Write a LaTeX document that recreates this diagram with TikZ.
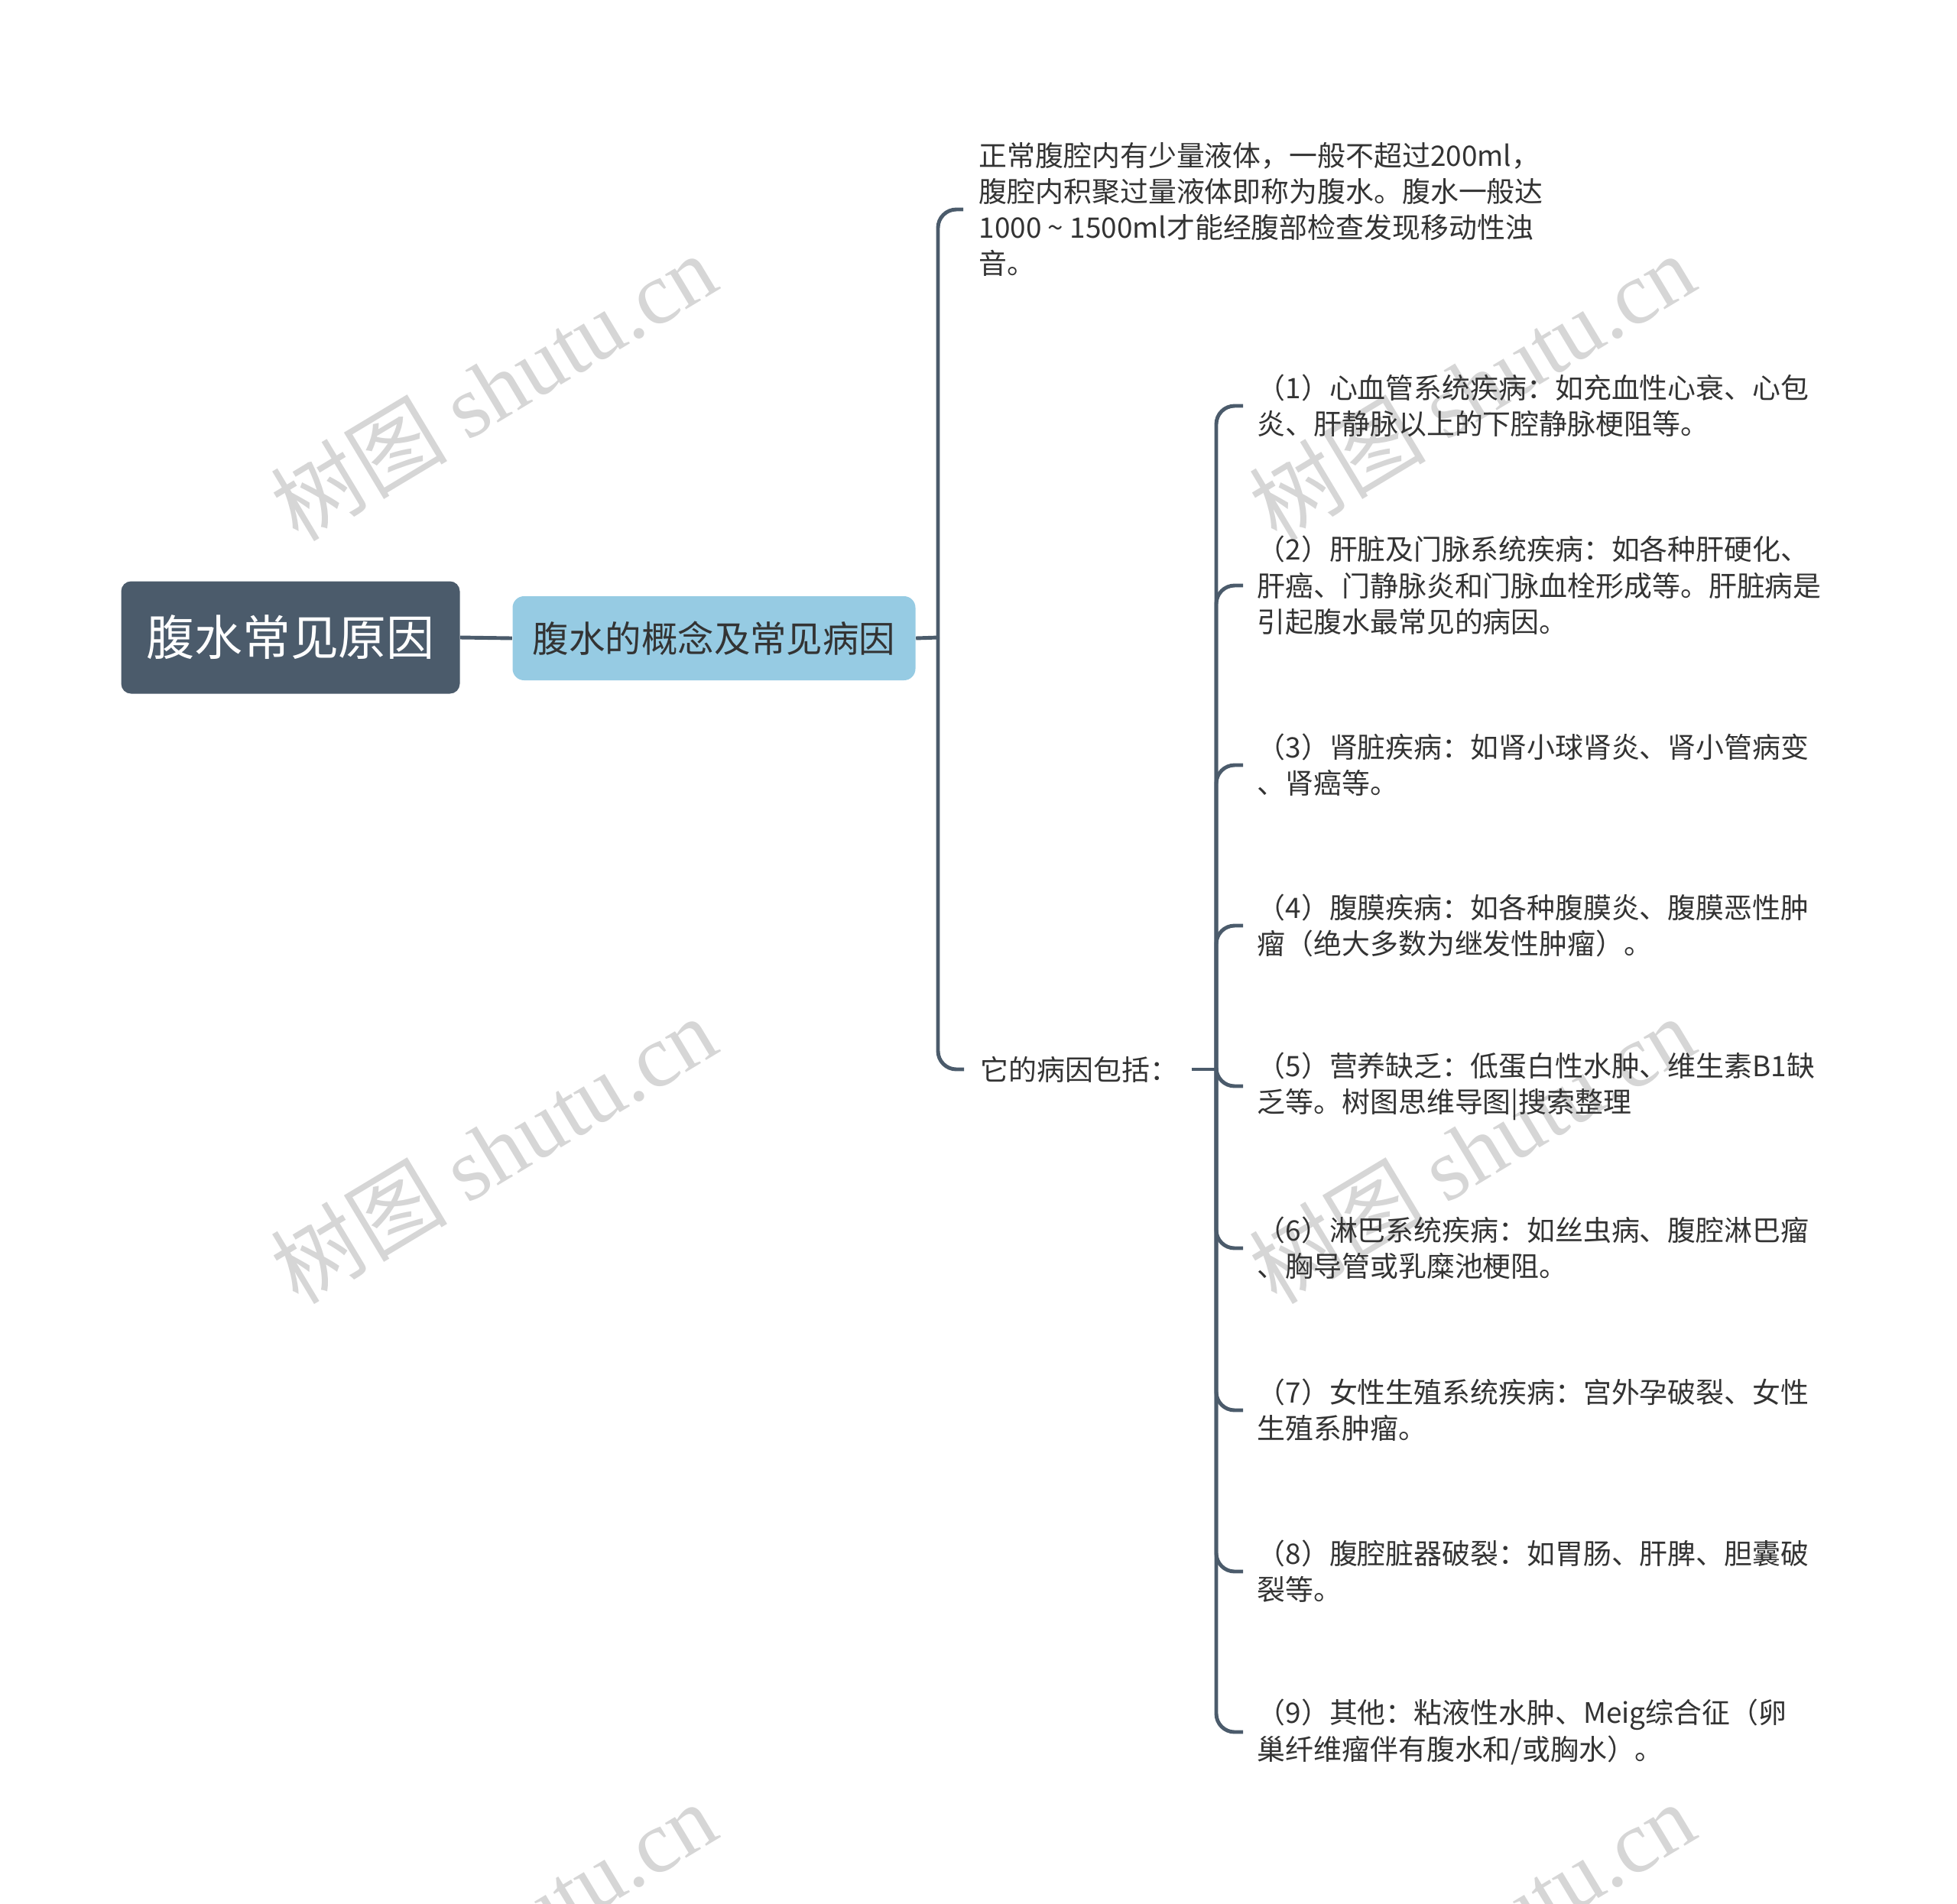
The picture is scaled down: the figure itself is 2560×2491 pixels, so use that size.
\documentclass[tikz,border=0pt]{standalone}
\usepackage{fontspec}
\setmainfont{Noto Sans CJK SC}
\newfontfamily\wmcjk{Noto Sans CJK SC}
\newfontfamily\wmlat{Liberation Serif}
\usetikzlibrary{positioning, calc}

\definecolor{slate}{HTML}{4B5B6B}
\definecolor{skyfill}{HTML}{96CBE3}
\definecolor{inkgray}{HTML}{333333}
\definecolor{wmgray}{HTML}{D6D6D6}

\tikzset{
  conn/.style={draw=slate, line width=1.4pt, rounded corners=2.4mm},
  rootbox/.style={fill=slate, text=white, rounded corners=1.3mm, minimum width=44.3mm,
    minimum height=14.7mm, font=\fontsize{17.9pt}{20pt}\selectfont},
  subbox/.style={fill=skyfill, text=inkgray, rounded corners=1.5mm,
    minimum width=52.7mm, minimum height=11mm, font=\fontsize{13.5pt}{16pt}\selectfont},
  leaf/.style={anchor=west, inner sep=0pt, align=left, text=inkgray,
    font=\fontsize{10.5pt}{13.45pt}\selectfont},
  wmark/.style={text=wmgray, rotate=31, inner sep=0pt, font=\fontsize{33pt}{36pt}\selectfont}
}

\begin{document}
\begin{tikzpicture}[x=0.1mm, y=-0.1mm]
  %tikz  腹水常见原因, mind map
  \useasboundingbox (0,0) rectangle (2560,2491);

  % watermarks
  \foreach \wx in {645, 1925}
    \foreach \wy in {506, 1504, 2532}
      \node[wmark] at (\wx,\wy) {\wmcjk 树图 \wmlat shutu.cn};

  \node[rootbox] (root) at (380,834) {腹水常见原因};
  \node[subbox] (sub) at (934,835) {腹水的概念及常见病因};
  \draw[conn] (root.east) -- (sub.west);

  \node[leaf] (intro) at (1280,274) {正常腹腔内有少量液体，一般不超过200ml，\\
    腹腔内积聚过量液体即称为腹水。腹水一般达\\
    1000 \textasciitilde{} 1500ml才能经腹部检查发现移动性浊\\
    音。};
  \node[leaf] (causes) at (1282,1399) {它的病因包括：};

  \coordinate (hubA) at (1227,834);
  \draw[conn] (sub.east) -- (hubA);
  \draw[conn] (hubA) |- ($(intro.west)+(-20,0)$);
  \draw[conn] (hubA) |- ($(causes.west)+(-21,0)$);

  \node[leaf] (c1) at (1644,531) {（1）心血管系统疾病：如充血性心衰、心包\\
    炎、肝静脉以上的下腔静脉梗阻等。};
  \node[leaf] (c2) at (1644,766) {（2）肝脏及门脉系统疾病：如各种肝硬化、\\
    肝癌、门静脉炎和门脉血栓形成等。肝脏病是\\
    引起腹水最常见的病因。};
  \node[leaf] (c3) at (1644,1001) {（3）肾脏疾病：如肾小球肾炎、肾小管病变\\
    、肾癌等。};
  \node[leaf] (c4) at (1644,1211) {（4）腹膜疾病：如各种腹膜炎、腹膜恶性肿\\
    瘤（绝大多数为继发性肿瘤）。};
  \node[leaf] (c5) at (1644,1421) {（5）营养缺乏：低蛋白性水肿、维生素B1缺\\
    乏等。树图思维导图|搜索整理};
  \node[leaf] (c6) at (1644,1633) {（6）淋巴系统疾病：如丝虫病、腹腔淋巴瘤\\
    、胸导管或乳糜池梗阻。};
  \node[leaf] (c7) at (1644,1845) {（7）女性生殖系统疾病：宫外孕破裂、女性\\
    生殖系肿瘤。};
  \node[leaf] (c8) at (1644,2056) {（8）腹腔脏器破裂：如胃肠、肝脾、胆囊破\\
    裂等。};
  \node[leaf] (c9) at (1644,2266) {（9）其他：粘液性水肿、Meig综合征（卵\\
    巢纤维瘤伴有腹水和/或胸水）。};

  \coordinate (hubB) at (1591,1399);
  \draw[conn] ($(causes.east)+(17,0)$) -- (hubB);
  \foreach \c in {c1,c2,c3,c4,c5,c6,c7,c8,c9}
    \draw[conn] (hubB) |- ($(\c.west)+(-18,0)$);
\end{tikzpicture}
\end{document}
